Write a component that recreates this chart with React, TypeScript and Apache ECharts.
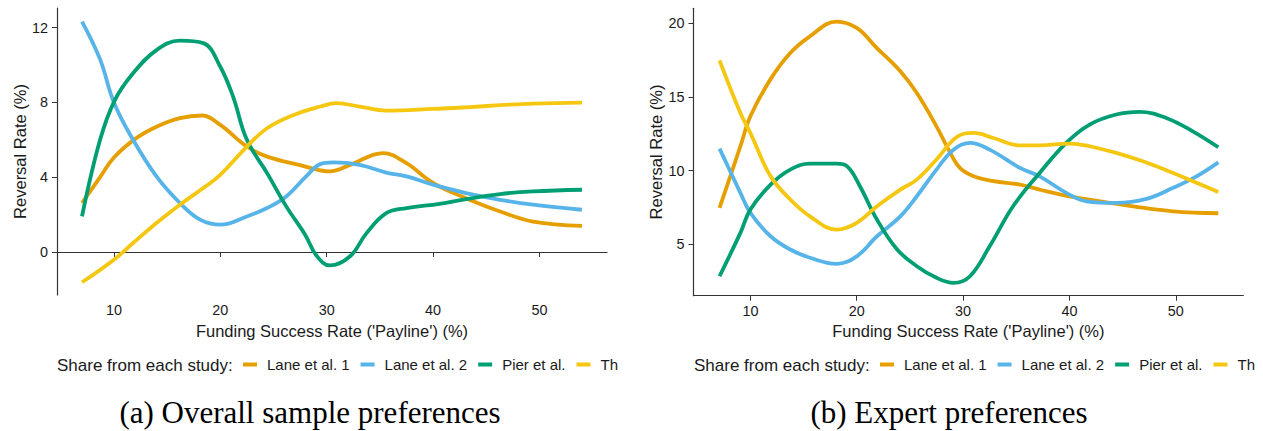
import { useEffect, useRef } from "react";
import * as echarts from "echarts";

// ---------- data ----------
const studyNames = ["Lane et al. 1", "Lane et al. 2", "Pier et al.", "Th"];
const studyColors = ["#E69F00", "#56B4E9", "#009E73", "#F5C710"];
const xTicks = [10, 20, 30, 40, 50];
const overallYTicks = [0, 4, 8, 12];
const expertYTicks = [5, 10, 15, 20];

const overallLane1: number[][] = [
  [7, 2.62], [8.7, 4.0], [10, 5.05], [12, 6.05], [14, 6.7], [16.2, 7.16], [18.3, 7.3], [20, 6.8],
  [22.5, 5.64], [24.4, 5.1], [27.5, 4.65], [30.3, 4.31], [32.2, 4.66], [35.3, 5.29], [37.5, 4.75],
  [40, 3.69], [43.1, 2.88], [46.3, 2.17], [49.4, 1.63], [54, 1.4],
];
const overallLane2: number[][] = [
  [7, 12.32], [8.7, 10.3], [10, 8.0], [11.8, 6.0], [14, 4.04], [16.2, 2.62], [18.1, 1.73], [20, 1.46],
  [22.5, 1.9], [24.4, 2.35], [26.2, 2.97], [28, 4.0], [29.4, 4.7], [30.6, 4.79], [33.1, 4.66],
  [35.6, 4.25], [37.5, 4.04], [40, 3.6], [43.1, 3.15], [46.3, 2.79], [49.4, 2.53], [54, 2.26],
];
const overallPier: number[][] = [
  [7, 1.9], [8.7, 6.0], [10.1, 8.14], [11.8, 9.56], [14, 10.8], [16.2, 11.3], [18.4, 11.17], [20, 9.91],
  [21.2, 8.31], [22.5, 6.0], [24.4, 4.22], [26.2, 2.44], [28, 0.9], [29.05, -0.2], [30.3, -0.72],
  [32.2, -0.23], [33.75, 1.01], [35.6, 2.08], [37.5, 2.35], [40.6, 2.58], [43.1, 2.83], [46.3, 3.1],
  [49.4, 3.24], [54, 3.33],
];
const overallTh: number[][] = [
  [7, -1.62], [10, -0.41], [11.8, 0.48], [14, 1.55], [16.2, 2.53], [18.4, 3.42], [20, 4.13],
  [22.5, 5.64], [24.4, 6.62], [26.9, 7.33], [29.4, 7.78], [30.9, 7.96], [33.1, 7.78], [35.6, 7.56],
  [40, 7.65], [43.1, 7.74], [46.3, 7.85], [49.4, 7.94], [54, 7.99],
];

const expertLane1: number[][] = [
  [7.1, 7.47], [9.06, 11.65], [10, 13.68], [11.9, 16.2], [13.75, 17.97], [15.6, 19.1], [18.1, 20.1],
  [20, 19.67], [21.9, 18.3], [24.1, 16.73], [25.65, 15.26], [27.5, 13.0], [28.8, 11.2], [29.7, 10.18],
  [31, 9.61], [32.85, 9.28], [35.35, 9.05], [37.2, 8.71], [40, 8.26], [42.9, 7.92], [46, 7.58],
  [49.75, 7.24], [54, 7.11],
];
const expertLane2: number[][] = [
  [7.1, 11.49], [9.06, 8.49], [10, 7.13], [11.9, 5.55], [13.75, 4.65], [15.6, 4.09], [18.1, 3.68],
  [20, 4.19], [21.9, 5.55], [24.1, 6.9], [25.65, 8.26], [27.5, 10.07], [29.1, 11.42], [30.65, 11.88],
  [32.5, 11.42], [35.35, 10.18], [37.2, 9.61], [39.7, 8.49], [41.6, 7.92], [44.4, 7.81], [47.25, 8.08],
  [49.75, 8.83], [51.95, 9.61], [54, 10.56],
];
const expertPier: number[][] = [
  [7.1, 2.84], [9.06, 5.78], [10, 7.36], [11.9, 9.05], [13.75, 10.07], [15.6, 10.47], [18.1, 10.47],
  [19.1, 10.29], [20.3, 8.94], [21.9, 6.68], [23.8, 4.65], [25.65, 3.52], [27.5, 2.73], [29.1, 2.39],
  [30.65, 2.84], [32.5, 4.87], [34.7, 7.58], [37.2, 9.84], [39.7, 11.88], [41.9, 13.12], [44.4, 13.8],
  [46.6, 13.98], [49.1, 13.57], [51.6, 12.66], [54, 11.58],
];
const expertTh: number[][] = [
  [7.1, 17.47], [9.06, 13.9], [10, 12.55], [11.9, 9.61], [13.75, 8.04], [15.6, 6.9], [18.1, 6.0],
  [20, 6.46], [21.9, 7.58], [24.1, 8.71], [25.65, 9.39], [27.5, 10.75], [29.4, 12.28], [31, 12.55],
  [32.85, 12.21], [35.35, 11.71], [37.2, 11.71], [40, 11.83], [41.9, 11.65], [44.4, 11.2],
  [46.9, 10.63], [49.75, 9.84], [51.95, 9.17], [54, 8.55],
];

const xTitle = "Funding Success Rate ('Payline') (%)";
const yTitle = "Reversal Rate (%)";
const legendTitle = "Share from each study:";

// ---------- option builder ----------
const SANS = '"Liberation Sans", Arial, Helvetica, sans-serif';
const SERIF = '"Liberation Serif", "Times New Roman", serif';
const INK = "#1a1a1a";
const AXIS = "#333333";

function buildOption(cfg: {
  data: number[][][];
  yMin: number;
  yMax: number;
  yTicks: number[];
  grid: { left: number; right: number; top: number; bottom: number };
  caption: string;
  captionX: number;
}) {
  return {
    animation: false,
    grid: { ...cfg.grid, containLabel: false, outerBoundsMode: "none" },
    legend: {
      data: studyNames,
      left: 243,
      top: 357,
      padding: 0,
      width: 900,
      icon: "rect",
      itemWidth: 14,
      itemHeight: 4,
      itemGap: 11,
      selectedMode: false,
      textStyle: { fontSize: 15, fontFamily: SANS, color: INK, padding: [0, 0, 0, 5] },
    },
    graphic: [
      {
        type: "text",
        x: 57,
        y: 365,
        style: {
          text: legendTitle,
          font: `17px ${SANS}`,
          fill: INK,
          align: "left",
          verticalAlign: "middle",
        },
      },
      {
        type: "text",
        x: cfg.captionX,
        y: 412,
        style: {
          text: cfg.caption,
          font: `31px ${SERIF}`,
          fill: "#000",
          align: "center",
          verticalAlign: "middle",
        },
      },
    ],
    xAxis: {
      type: "value",
      min: 4.65,
      max: 56.35,
      name: xTitle,
      nameLocation: "middle",
      nameGap: 27,
      nameMoveOverlap: false,
      nameTextStyle: { fontSize: 16.5, fontFamily: SANS, color: INK },
      axisLine: { show: true, lineStyle: { color: AXIS, width: 1.2 } },
      axisTick: { show: true, length: 5, lineStyle: { color: AXIS, width: 1 }, customValues: xTicks },
      axisLabel: { fontSize: 14.4, fontFamily: SANS, color: INK, margin: 8, customValues: xTicks },
      splitLine: { show: false },
    },
    yAxis: {
      type: "value",
      min: cfg.yMin,
      max: cfg.yMax,
      name: yTitle,
      nameLocation: "middle",
      nameGap: 29,
      nameMoveOverlap: false,
      nameTextStyle: { fontSize: 16.5, fontFamily: SANS, color: INK },
      axisLine: { show: true, lineStyle: { color: AXIS, width: 1.2 } },
      axisTick: { show: true, length: 5, lineStyle: { color: AXIS, width: 1 }, customValues: cfg.yTicks },
      axisLabel: { fontSize: 14.4, fontFamily: SANS, color: INK, margin: 9, customValues: cfg.yTicks },
      splitLine: { show: false },
    },
    series: cfg.data.map((d, i) => ({
      type: "line",
      name: studyNames[i],
      data: d,
      smooth: 0.4,
      showSymbol: false,
      symbol: "none",
      color: studyColors[i],
      lineStyle: { color: studyColors[i], width: 3.8, cap: "butt" },
      emphasis: { disabled: true },
    })),
  };
}

function Panel(props: { left: number; width: number; option: any }) {
  const ref = useRef<HTMLDivElement>(null);
  useEffect(() => {
    if (!ref.current) return;
    const chart = echarts.init(ref.current, undefined, { renderer: "svg" });
    chart.setOption(props.option);
    return () => chart.dispose();
  }, []);
  return (
    <div
      ref={ref}
      style={{
        position: "absolute",
        left: props.left,
        top: 0,
        width: props.width,
        height: 431,
        overflow: "hidden",
      }}
    />
  );
}

export default function App() {
  const overallOption = buildOption({
    data: [overallLane1, overallLane2, overallPier, overallTh],
    yMin: -2.3,
    yMax: 13.05,
    yTicks: overallYTicks,
    grid: { left: 57, right: 15, top: 8, bottom: 136 },
    caption: "(a) Overall sample preferences",
    captionX: 310,
  });
  const expertOption = buildOption({
    data: [expertLane1, expertLane2, expertPier, expertTh],
    yMin: 1.52,
    yMax: 21.0,
    yTicks: expertYTicks,
    grid: { left: 56.5, right: 19.7, top: 8.3, bottom: 135.3 },
    caption: "(b) Expert preferences",
    captionX: 312,
  });
  return (
    <div
      style={{
        position: "absolute",
        left: 0,
        top: 0,
        width: 1263,
        height: 431,
        background: "#fff",
        overflow: "hidden",
      }}
    >
      <Panel left={0} width={622} option={overallOption} />
      <Panel left={637} width={626} option={expertOption} />
    </div>
  );
}
